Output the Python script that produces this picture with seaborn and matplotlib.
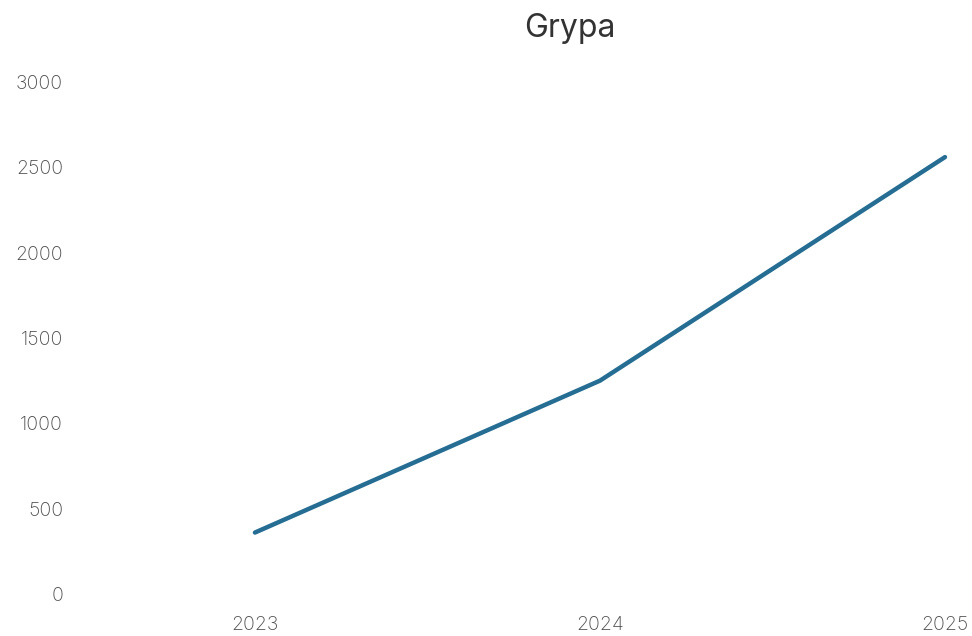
import matplotlib
matplotlib.use("Agg")
import matplotlib.pyplot as plt
import seaborn as sns
import pandas as pd

sns.set_theme(style="white")
plt.rcParams['font.family'] = ['Inter', 'DejaVu Sans']

# Data
years = [2023, 2024, 2025]
cases = [360, 1250, 2560]
y_ticks = [0, 500, 1000, 1500, 2000, 2500, 3000]

df = pd.DataFrame({"Rok": years, "Grypa": cases})

fig = plt.figure(figsize=(9.72, 6.36), dpi=100)
ax = fig.add_axes([70 / 972, 42 / 636, 880 / 972, 512 / 636])

sns.lineplot(data=df, x="Rok", y="Grypa", ax=ax, color="#256d93",
             linewidth=3.2, solid_capstyle="round")

ax.set_xlim(2022.464, 2025.0145)
ax.set_ylim(0, 3000)
ax.set_xticks(years)
ax.set_xticklabels([str(y) for y in years])
ax.set_yticks(y_ticks)
ax.set_yticklabels([str(t) for t in y_ticks])
ax.tick_params(axis="both", length=0, labelsize=14, labelcolor="#4d4d4d")
ax.tick_params(axis="x", pad=16)
ax.tick_params(axis="y", pad=5)
for lbl in ax.get_xticklabels() + ax.get_yticklabels():
    lbl.set_fontweight("light")
ax.set_xlabel("")
ax.set_ylabel("")
sns.despine(ax=ax, left=True, bottom=True)

fig.text(570 / 972, 1 - 28 / 636, "Grypa", ha="center", va="center",
         fontsize=23, color="#333333")

plt.savefig("out.png", dpi=100)
